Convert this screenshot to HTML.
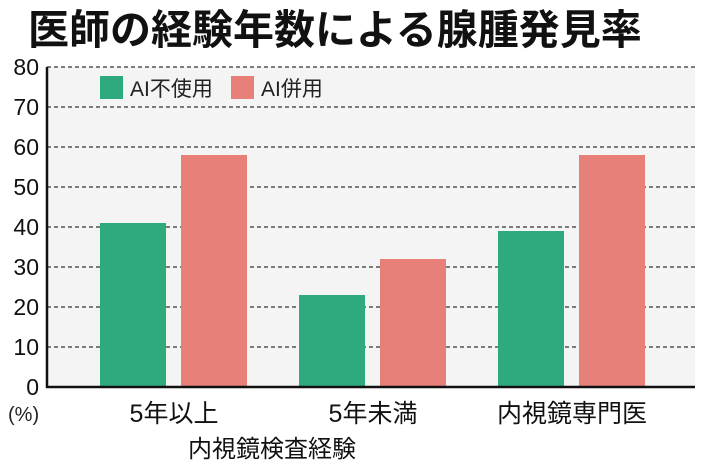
<!DOCTYPE html>
<html><head><meta charset="utf-8"><style>
body{margin:0;background:#fff;}
svg{display:block;font-family:"Liberation Sans","Noto Sans CJK JP",sans-serif;}
</style></head><body>
<svg id="c" width="710" height="468" viewBox="0 0 710 468">
<text x="28" y="44" font-size="41" font-weight="bold" fill="#111">医師の経験年数による腺腫発見率</text>
<rect x="47" y="67" width="648" height="320" fill="#f4f4f4"/>
<g id="grid"></g>
<g id="bars"></g>
<line x1="47" y1="67" x2="47" y2="388" stroke="#111" stroke-width="2.5"/>
<line x1="46" y1="387" x2="695" y2="387" stroke="#111" stroke-width="2.5"/>
<g id="ylabels"></g>
<text x="8" y="421" font-size="20" fill="#222">(%)</text>
<g id="xlabels"></g>
<text x="272" y="457" font-size="24" fill="#111" text-anchor="middle">内視鏡検査経験</text>
<rect x="100" y="76" width="23" height="23" fill="#2faa7c"/>
<text x="130" y="96" font-size="21" fill="#222">AI不使用</text>
<rect x="231" y="76" width="23" height="23" fill="#e8807a"/>
<text x="261" y="96" font-size="21" fill="#222">AI併用</text>
</svg>
<script>
const categories=["5年以上","5年未満","内視鏡専門医"];
const noAI=[41,23,39];
const withAI=[58,32,58];
const yTicks=[0,10,20,30,40,50,60,70,80];
const NS="http://www.w3.org/2000/svg";
const y=v=>387-v*4;
const groupX=i=>100+i*199;
function mk(t,a,p){const e=document.createElementNS(NS,t);for(const k in a)e.setAttribute(k,a[k]);p.appendChild(e);return e;}
const grid=document.getElementById('grid'),yl=document.getElementById('ylabels'),bars=document.getElementById('bars'),xl=document.getElementById('xlabels');
yTicks.forEach(v=>{
 if(v>0){const l=mk('line',{x1:47,x2:695,y1:y(v),y2:y(v),stroke:'#333','stroke-width':1.2,'stroke-dasharray':'4,3'},grid);
 
 }
 const t=mk('text',{x:39,y:y(v)+8,'font-size':23,'text-anchor':'end',fill:'#111'},yl);t.textContent=v;
 
 
});
categories.forEach((c,i)=>{
 const x=groupX(i);
 const b1=mk('rect',{x:x,y:y(noAI[i]),width:66,height:noAI[i]*4,fill:'#2faa7c'},bars);
 
 
 const b2=mk('rect',{x:x+81,y:y(withAI[i]),width:66,height:withAI[i]*4,fill:'#e8807a'},bars);
 
 
 const t=mk('text',{x:x+74,y:422,'font-size':25,'text-anchor':'middle',fill:'#111'},xl);t.textContent=c;
 
 
});
</script>
</body></html>
